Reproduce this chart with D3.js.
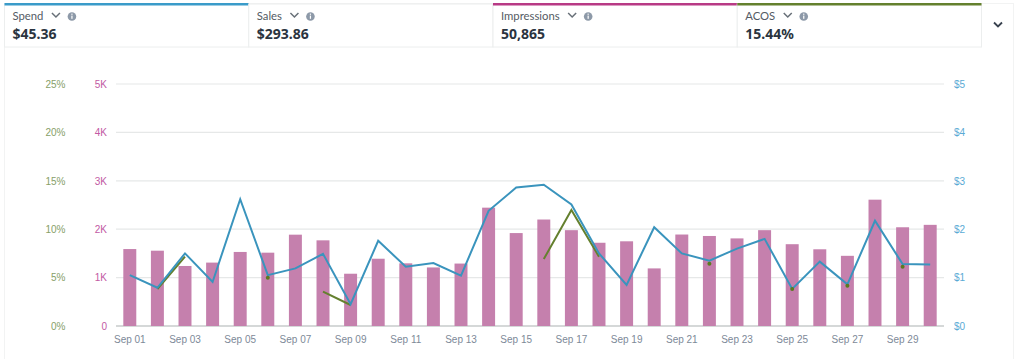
<!DOCTYPE html>
<html>
<head>
<meta charset="utf-8">
<script src="https://cdn.jsdelivr.net/npm/d3@7"></script>
<style>
html, body { margin: 0; padding: 0; background: #fff; overflow: hidden; }
svg { display: block; font-family: "Noto Sans", "Open Sans", sans-serif; }
.tick text { font-size: 10px; }
.axis path { display: none; }
.axis line { display: none; }
</style>
</head>
<body>
<svg id="viz" width="1024" height="359"></svg>
<script>
var days = ["Sep 01","Sep 02","Sep 03","Sep 04","Sep 05","Sep 06","Sep 07","Sep 08","Sep 09","Sep 10",
            "Sep 11","Sep 12","Sep 13","Sep 14","Sep 15","Sep 16","Sep 17","Sep 18","Sep 19","Sep 20",
            "Sep 21","Sep 22","Sep 23","Sep 24","Sep 25","Sep 26","Sep 27","Sep 28","Sep 29","Sep 30"];
var impressions = [1590,1556,1240,1310,1530,1515,1887,1770,1080,1390,
                   1295,1210,1290,2445,1920,2200,1980,1720,1750,1190,
                   1890,1860,1810,1980,1690,1585,1450,2610,2040,2090];
var spend = [1.05,0.79,1.50,0.91,2.62,1.05,1.19,1.49,0.45,1.76,
             1.225,1.30,1.04,2.38,2.86,2.92,2.51,1.50,0.85,2.04,
             1.50,1.35,1.60,1.80,0.765,1.33,0.86,2.175,1.28,1.27];
// acos only exists on days with sales
var acos = [null,3.82,7.16,null,null,4.99,null,3.55,2.17,null,
            null,null,null,null,null,6.92,11.98,7.16,null,null,
            null,6.44,null,null,3.82,null,4.16,null,6.13,null];
var tiles = [
  {name: "Spend", value: "$45.36", color: "#3a9bc9"},
  {name: "Sales", value: "$293.86", color: null},
  {name: "Impressions", value: "50,865", color: "#b83a85"},
  {name: "ACOS", value: "15.44%", color: "#64802e"}
];
var acosTicks = [0,5,10,15,20,25];
var imprTicks = [0,1000,2000,3000,4000,5000];
var spendTicks = [0,1,2,3,4,5];

var margin = {top: 84, bottom: 33, left: 116, right: 80};
var width = 1024 - margin.left - margin.right;
var height = 359 - margin.top - margin.bottom;

var svg = d3.select("#viz");

// panel and header tiles
svg.append("rect").attr("x", 4.5).attr("y", 3.5).attr("width", 1009).attr("height", 360)
    .attr("fill", "none").attr("stroke", "#f2f3f3");

var tileX = d3.scaleBand().domain(d3.range(tiles.length)).range([4.5, 981.5]);
var tile = svg.selectAll(".tile").data(tiles).enter().append("g")
    .attr("class", "tile")
    .attr("transform", function(d, i){return "translate(" + tileX(i) + ",0)"});

tile.append("rect")
    .attr("y", 4).attr("width", tileX.bandwidth()).attr("height", 43)
    .attr("fill", "#fff").attr("stroke", "#eceeee");
tile.filter(function(d){return d.color}).append("rect")
    .attr("y", 3).attr("width", tileX.bandwidth()).attr("height", 2.5)
    .attr("fill", function(d){return d.color});
tile.append("text").attr("x", 8).attr("y", 20)
    .attr("font-family", "Lato, sans-serif")
    .attr("font-size", 11.3).attr("fill", "#545b64")
    .text(function(d){return d.name});
tile.append("text").attr("x", 8).attr("y", 39)
    .attr("font-size", 14).attr("font-weight", 700).attr("fill", "#2b3440")
    .text(function(d){return d.value});

// chevron + info icon, placed after the measured label
tile.each(function(){
    var g = d3.select(this);
    var w = g.select("text").node().getComputedTextLength();
    g.append("path")
        .attr("d", "M" + (w+16.5) + ",13 l4,4 l4,-4")
        .attr("fill", "none").attr("stroke", "#687078").attr("stroke-width", 1.5);
    g.append("circle").attr("cx", w+36.5).attr("cy", 16.5).attr("r", 4.3).attr("fill", "#8d99a8");
    g.append("rect").attr("x", w+35.9).attr("y", 15.6).attr("width", 1.2).attr("height", 3.2).attr("fill", "#fff");
    g.append("rect").attr("x", w+35.9).attr("y", 13.6).attr("width", 1.2).attr("height", 1.2).attr("fill", "#fff");
});

svg.append("path").attr("d", "M994,22.5 l4,4 l4,-4")
    .attr("fill", "none").attr("stroke", "#39424f").attr("stroke-width", 1.8);

// chart
var chart = svg.append("g").attr("transform", "translate(" + margin.left + "," + margin.top + ")");

var x = d3.scaleBand().domain(days).range([0, width]).paddingInner(0.53).paddingOuter(0.265);
var yImpr = d3.scaleLinear().domain([0, 5000]).range([height, 0]);
var ySpend = d3.scaleLinear().domain([0, 5]).range([height, 0]);
var yAcos = d3.scaleLinear().domain([0, 25]).range([height, 0]);
function cx(i){return x(days[i]) + x.bandwidth() / 2}

chart.selectAll(".grid").data(imprTicks).enter().append("line")
    .attr("class", "grid")
    .attr("x1", 0).attr("x2", width)
    .attr("y1", function(d){return yImpr(d)}).attr("y2", function(d){return yImpr(d)})
    .attr("stroke", function(d){return d === 0 ? "#d5d8d8" : "#e6e8e8"})
    .attr("stroke-width", function(d){return d === 0 ? 1.8 : 1.2});

chart.selectAll(".bar").data(impressions).enter().append("rect")
    .attr("class", "bar")
    .attr("x", function(d, i){return x(days[i])})
    .attr("width", x.bandwidth())
    .attr("y", function(d){return yImpr(d)})
    .attr("height", function(d){return height - yImpr(d)})
    .attr("fill", "#c580ad");

chart.append("path").datum(acos)
    .attr("fill", "none").attr("stroke", "#64802e").attr("stroke-width", 2)
    .attr("d", d3.line()
        .defined(function(d){return d !== null})
        .x(function(d, i){return cx(i)})
        .y(function(d){return yAcos(d)}));

chart.append("path").datum(spend)
    .attr("fill", "none").attr("stroke", "#3a94bd").attr("stroke-width", 2)
    .attr("d", d3.line()
        .x(function(d, i){return cx(i)})
        .y(function(d){return ySpend(d)}));

// lone acos days have no line segment so they show as dots
chart.selectAll(".acosDot")
    .data(acos.map(function(d, i){return {v: d, i: i}}).filter(function(d){
        return d.v !== null && acos[d.i-1] == null && acos[d.i+1] == null}))
    .enter().append("circle")
    .attr("class", "acosDot")
    .attr("cx", function(d){return cx(d.i)})
    .attr("cy", function(d){return yAcos(d.v)})
    .attr("r", 2)
    .attr("fill", "#5c7a1f");

// axes
chart.append("g").attr("class", "axis")
    .attr("transform", "translate(0," + height + ")")
    .call(d3.axisBottom(x)
        .tickValues(days.filter(function(d, i){return i % 2 === 0}))
        .tickSize(0).tickPadding(10))
    .selectAll("text").attr("fill", "#7d8998");

chart.append("g").attr("class", "axis")
    .attr("transform", "translate(-9,0)")
    .call(d3.axisLeft(yImpr).tickValues(imprTicks).tickSize(0).tickPadding(0)
        .tickFormat(function(d){return d === 0 ? "0" : (d / 1000) + "K"}))
    .selectAll("text").attr("fill", "#c25aa3");

chart.append("g").attr("class", "axis")
    .attr("transform", "translate(-50.5,0)")
    .call(d3.axisLeft(yAcos).tickValues(acosTicks).tickSize(0).tickPadding(0)
        .tickFormat(function(d){return d + "%"}))
    .selectAll("text").attr("fill", "#87a068");

chart.append("g").attr("class", "axis")
    .attr("transform", "translate(" + (width + 10) + ",0)")
    .call(d3.axisRight(ySpend).tickValues(spendTicks).tickSize(0).tickPadding(0)
        .tickFormat(function(d){return "$" + d}))
    .selectAll("text").attr("fill", "#5aaad5");
</script>
</body>
</html>
